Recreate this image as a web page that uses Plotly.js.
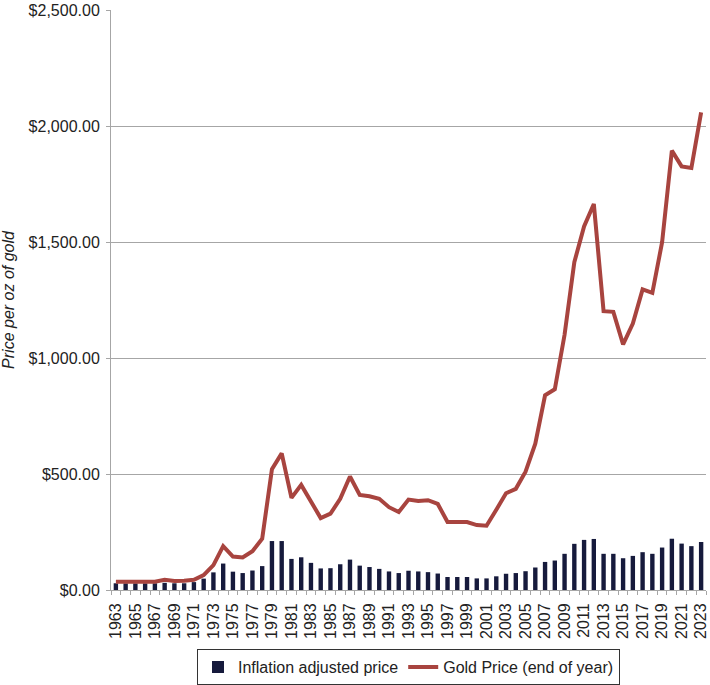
<!DOCTYPE html>
<html>
<head>
<meta charset="utf-8">
<script src="https://cdn.plot.ly/plotly-3.0.1.min.js"></script>
<style>
  html, body { margin: 0; padding: 0; background: #fff; }
  #chart { width: 710px; height: 685px; }
</style>
</head>
<body>
<div id="chart"></div>
<script>
var years = [1963, 1964, 1965, 1966, 1967, 1968, 1969, 1970, 1971, 1972,
  1973, 1974, 1975, 1976, 1977, 1978, 1979, 1980, 1981, 1982,
  1983, 1984, 1985, 1986, 1987, 1988, 1989, 1990, 1991, 1992,
  1993, 1994, 1995, 1996, 1997, 1998, 1999, 2000, 2001, 2002,
  2003, 2004, 2005, 2006, 2007, 2008, 2009, 2010, 2011, 2012,
  2013, 2014, 2015, 2016, 2017, 2018, 2019, 2020, 2021, 2022, 2023];

// inflation adjusted price (bars)
var adjusted = [29, 29, 29, 29, 29, 31, 29, 29, 34, 49,
  76, 114, 79, 73, 84, 103, 211, 211, 134, 141,
  117, 93, 94, 111, 131, 105, 99, 91, 80, 73,
  83, 80, 77, 71, 56, 56, 56, 50, 50, 59,
  70, 73, 81, 97, 121, 127, 156, 199, 216, 220,
  156, 156, 137, 147, 163, 156, 183, 221, 200, 189, 207];

// gold price, end of year (line)
var goldPrice = [36, 36, 36, 36, 36, 44, 39, 40, 44, 64,
  107, 189, 144, 140, 167, 221, 521, 589, 397, 453,
  381, 310, 329, 393, 489, 410, 404, 393, 357, 336,
  390, 384, 387, 371, 293, 291, 293, 280, 277, 346,
  417, 436, 510, 631, 839, 865, 1100, 1413, 1567, 1664,
  1202, 1199, 1059, 1148, 1296, 1281, 1499, 1894, 1826, 1819, 2059];

var data = [{
    x: years,
    y: adjusted,
    name: 'Inflation adjusted price',
    type: 'bar',
    marker: {color: '#161a3c'}
  }, {
    x: years,
    y: goldPrice,
    name: 'Gold Price (end of year)',
    type: 'scatter',
    mode: 'lines',
    line: {color: '#a8443f', width: 4}
  }];

var gray = '#a6a6a6';

var layout = {
  width: 710,
  height: 685,
  margin: {l: 111, r: 4, t: 10, b: 95, autoexpand: false},
  font: {family: '"Liberation Sans", Arial, sans-serif', size: 16, color: '#222'},
  paper_bgcolor: '#fff',
  plot_bgcolor: '#fff',
  bargap: 0.55,
  showlegend: true,
  xaxis: {
    range: [1962.5, 2023.5],
    tick0: 1963,
    dtick: 2,
    tickangle: -90,
    ticks: '',
    ticklabelstandoff: 6,
    showgrid: false,
    zeroline: false,
    showline: true,
    linecolor: gray,
    linewidth: 1,
    tickfont: {size: 16},
    minor: {tick0: 1962.5, dtick: 1, ticks: 'outside', ticklen: 4, tickcolor: gray, showgrid: false}
  },
  yaxis: {
    range: [0, 2500],
    dtick: 500,
    tickformat: '$,.2f',
    showgrid: true,
    gridcolor: gray,
    gridwidth: 1,
    zeroline: false,
    showline: true,
    linecolor: gray,
    ticks: 'outside',
    ticklen: 4,
    tickcolor: gray,
    ticklabelstandoff: 3,
    tickfont: {size: 16},
    title: {text: 'Price per oz of gold', standoff: 14, font: {size: 16, style: 'italic'}}
  },
  legend: {
    orientation: 'h',
    x: 0.5,
    xanchor: 'center',
    y: -0.102,
    yanchor: 'top',
    bordercolor: '#333',
    borderwidth: 1,
    font: {size: 16}
  }
};

Plotly.newPlot('chart', data, layout, {displayModeBar: false});
</script>
</body>
</html>
